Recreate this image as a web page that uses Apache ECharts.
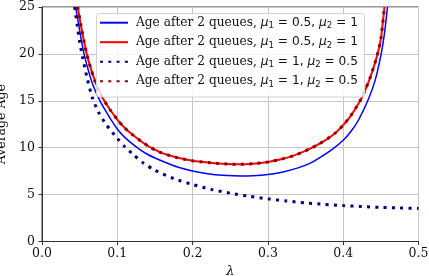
<!DOCTYPE html>
<html>
<head>
<meta charset="utf-8">
<script src="https://cdn.jsdelivr.net/npm/echarts@6/dist/echarts.min.js"></script>
<style>
html,body{margin:0;padding:0;background:#fff;}
#chart{width:429px;height:276px;}
</style>
</head>
<body>
<div id="chart"></div>
<script>
// Data
var xTicks = [0.0, 0.1, 0.2, 0.3, 0.4, 0.5];
var yTicks = [0, 5, 10, 15, 20, 25];

var blueX = [0.0447,0.047,0.05,0.0558,0.06,0.065,0.07,0.077,0.084,0.09,0.1,0.11,0.12,0.13,0.14,0.15,0.165,0.18,0.2,0.22,0.24,0.265,0.28,0.3,0.32,0.34,0.355,0.37,0.385,0.4,0.41,0.42,0.4336,0.4425,0.4504,0.455,0.4588];
var blueY = [25,23.9,22.5,20.0,18.7,17.3,16.2,15.0,14.0,13.2,12.0,11.1,10.4,9.8,9.3,8.9,8.4,7.95,7.52,7.22,7.05,6.97,7.0,7.14,7.42,7.85,8.3,9.0,9.8,10.8,11.7,12.9,15.2,17.2,20,22.3,25];

var redX = [0.0474,0.05,0.053,0.0594,0.065,0.07,0.076,0.0828,0.09,0.1,0.11,0.12,0.1346,0.1435,0.157,0.179,0.2,0.223,0.245,0.262,0.28,0.3,0.32,0.334,0.345,0.356,0.367,0.38,0.39,0.4,0.41,0.4225,0.43,0.435,0.4405,0.4456,0.45,0.4548];
var redY = [25,23.8,22.5,20.0,18.4,17.2,16.0,15.0,14.1,13.0,12.1,11.4,10.5,10.05,9.5,8.95,8.6,8.4,8.27,8.23,8.29,8.48,8.82,9.15,9.5,9.9,10.35,11.0,11.6,12.4,13.4,15.0,16.3,17.3,18.6,20.0,21.6,25];

var darkRedX = redX.slice();
var darkRedY = redY.slice();

var navyX = [0.0434,0.047,0.05,0.054,0.06,0.067,0.075,0.085,0.1,0.11,0.12,0.135,0.15,0.175,0.2,0.225,0.25,0.275,0.3,0.325,0.35,0.375,0.4,0.425,0.45,0.475,0.5];
var navyY = [25,22.9,21.3,19.6,17.4,15.3,13.8,12.5,11.0,10.1,9.35,8.35,7.6,6.7,6.08,5.55,5.15,4.82,4.55,4.32,4.12,3.96,3.83,3.72,3.64,3.58,3.53];

var legendTexts = [
  '{s|Age after 2 queues, }{m|μ}{sub|1}{n| = 0.5, }{m|μ}{sub|2}{n| = 1}',
  '{s|Age after 2 queues, }{m|μ}{sub|1}{n| = 0.5, }{m|μ}{sub|2}{n| = 1}',
  '{s|Age after 2 queues, }{m|μ}{sub|1}{n| = 1, }{m|μ}{sub|2}{n| = 0.5}',
  '{s|Age after 2 queues, }{m|μ}{sub|1}{n| = 1, }{m|μ}{sub|2}{n| = 0.5}'
];
var seriesNames = ['s1','s2','s3','s4'];
var legendRowCenters = [24.3, 43.8, 63.3, 82.8];

function pairs(xs, ys){ return xs.map(function(x,i){ return [x, ys[i]]; }); }

var serif = 'DejaVu Serif';
var sans = 'DejaVu Sans';

var richStyles = {
  s:{fontFamily:serif, fontSize:12.2, lineHeight:16, color:'#111'},
  m:{fontFamily:sans, fontStyle:'italic', fontSize:12.2, lineHeight:16, color:'#111'},
  n:{fontFamily:sans, fontSize:12.2, lineHeight:16, color:'#111'},
  sub:{fontFamily:sans, fontSize:8.5, lineHeight:10, verticalAlign:'bottom', color:'#111'}
};

var legends = seriesNames.map(function(nm, i){
  return {
    orient:'vertical', left:99, top:legendRowCenters[i] - 8, z:20,
    padding:0, itemWidth:28, itemHeight:16,
    itemStyle:{opacity:0},
    data:[nm],
    formatter:function(name){ return legendTexts[seriesNames.indexOf(name)]; },
    textStyle:{color:'#111', padding:[0,0,0,3], rich:richStyles}
  };
});

var chart = echarts.init(document.getElementById('chart'), null, {renderer:'canvas'});
chart.setOption({
  animation:false,
  backgroundColor:'#ffffff',
  grid:{left:42, right:10.5, top:7, bottom:34.5, outerBoundsMode:'none', containLabel:false,
        show:true, borderColor:'#333', borderWidth:1, backgroundColor:'transparent'},
  graphic:[{
    type:'rect', z:15, silent:true,
    shape:{x:96.5, y:13.5, width:268, height:83.5, r:3},
    style:{fill:'rgba(255,255,255,0.82)', stroke:'#d0d0d0', lineWidth:1}
  }],
  xAxis:{
    type:'value', min:0, max:0.5, interval:0.1,
    name:'λ', nameLocation:'middle', nameGap:19,
    nameTextStyle:{fontFamily:serif, fontStyle:'italic', fontSize:13, color:'#111'},
    axisLine:{show:true, lineStyle:{color:'#333', width:1}},
    axisTick:{show:true, inside:false, length:3.5, lineStyle:{color:'#333'}},
    axisLabel:{fontFamily:serif, fontSize:12.5, color:'#111', margin:6, formatter:function(v){return v.toFixed(1);}},
    splitLine:{show:true, lineStyle:{color:'#c6c6c6', width:1}}
  },
  yAxis:{
    type:'value', min:0, max:25, interval:5,
    name:'Average Age', nameLocation:'middle', nameGap:24,
    nameTextStyle:{fontFamily:serif, fontSize:12.5, color:'#111'},
    axisLine:{show:true, lineStyle:{color:'#333', width:1}},
    axisTick:{show:true, inside:false, length:3.5, lineStyle:{color:'#333'}},
    axisLabel:{fontFamily:serif, fontSize:12.5, color:'#111', margin:7},
    splitLine:{show:true, lineStyle:{color:'#c6c6c6', width:1}}
  },
  legend:legends,
  series:[
    {name:'s1', type:'line', data:pairs(blueX, blueY), showSymbol:false, symbol:'none', smooth:0.25,
     lineStyle:{color:'#0000ff', width:1.5}, itemStyle:{color:'#0000ff'}, z:2},
    {name:'s2', type:'line', data:pairs(redX, redY), showSymbol:false, symbol:'none', smooth:0.25,
     lineStyle:{color:'#ff0000', width:2}, itemStyle:{color:'#ff0000'}, z:3},
    {name:'s3', type:'line', data:pairs(navyX, navyY), showSymbol:false, symbol:'none', smooth:0.25,
     lineStyle:{color:'#000080', width:3, type:[3,5.3], cap:'butt'}, itemStyle:{color:'#000080'}, z:4},
    {name:'s4', type:'line', data:pairs(darkRedX, darkRedY), showSymbol:false, symbol:'none', smooth:0.25,
     lineStyle:{color:'#8b0000', width:3, type:[3,5.3], cap:'butt'}, itemStyle:{color:'#8b0000'}, z:5}
  ]
});
</script>
</body>
</html>
